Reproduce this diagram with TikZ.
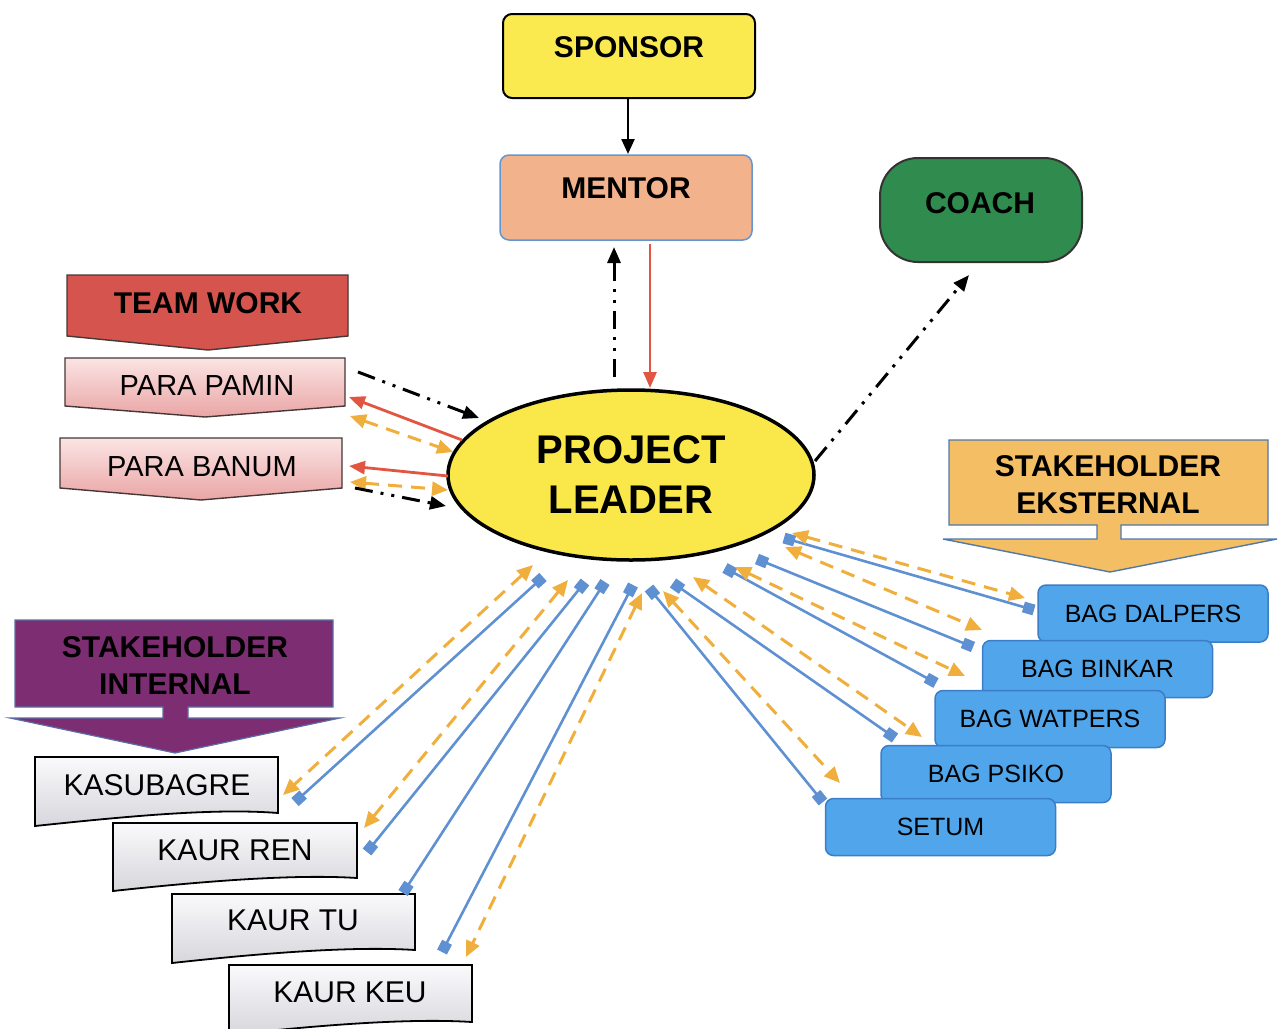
\documentclass[tikz,border=0pt]{standalone}
\usepackage{fontspec}
\setmainfont{Liberation Sans}
\usetikzlibrary{arrows.meta,shapes.geometric}
\definecolor{sponsorY}{RGB}{250,234,80}
\definecolor{mentorC}{RGB}{242,178,140}
\definecolor{mentorB}{RGB}{100,150,210}
\definecolor{coachG}{RGB}{48,140,78}
\definecolor{plY}{RGB}{250,232,75}
\definecolor{teamR}{RGB}{214,84,78}
\definecolor{pinkT}{RGB}{251,228,228}
\definecolor{pinkB}{RGB}{234,165,165}
\definecolor{intP}{RGB}{125,46,115}
\definecolor{intB}{RGB}{90,110,165}
\definecolor{extO}{RGB}{243,190,100}
\definecolor{extB}{RGB}{80,120,170}
\definecolor{bagB}{RGB}{80,165,235}
\definecolor{bagE}{RGB}{60,125,200}
\definecolor{lineB}{RGB}{95,145,210}
\definecolor{lineO}{RGB}{240,175,60}
\definecolor{lineR}{RGB}{225,85,65}
\definecolor{grayT}{RGB}{250,250,252}
\definecolor{grayB}{RGB}{214,214,220}
\definecolor{edgeD}{RGB}{70,55,55}
\begin{document}
\begin{tikzpicture}[x=1pt,y=-1pt,
  boxtxt/.style={inner sep=0pt, align=center},
  hb/.style={boxtxt, font=\fontsize{30}{37}\selectfont\bfseries},
  hr/.style={boxtxt, font=\fontsize{29}{35}\selectfont},
  bag/.style={draw=bagE, fill=bagB, line width=1.5, rounded corners=8, minimum width=230, minimum height=57, inner sep=0pt, font=\fontsize{25}{30}\selectfont},
  docbox/.style={draw=black, line width=1.8, top color=grayT, bottom color=grayB},
  pinkbox/.style={draw=edgeD, line width=1.4, top color=pinkT, bottom color=pinkB},
  bluecon/.style={lineB, line width=2.6, {Square[length=11,width=11]}-{Square[length=11,width=11]}},
  orcon/.style={lineO, line width=3, dash pattern=on 14pt off 9pt, {Triangle[length=16,width=14]}-{Triangle[length=16,width=14]}},
  redcon/.style={lineR, line width=2.8, -{Triangle[length=16,width=13]}},
  ddcon/.style={black, line width=3, dash pattern=on 18pt off 8pt on 3pt off 8pt on 3pt off 8pt, -{Triangle[length=16,width=13]}},
]
\path[use as bounding box] (0,0) rectangle (1281,1028);
\clip (0,0) rectangle (1281,1028);

% ---------- top boxes ----------
\node[draw=black, line width=2, fill=sponsorY, rounded corners=9, minimum width=252, minimum height=84] (sponsor) at (629,56) {};
\node[hb] (sponsorT) at (629,47) {SPONSOR};
\node[draw=mentorB, line width=1.5, fill=mentorC, rounded corners=9, minimum width=252, minimum height=85] (mentor) at (626,197.5) {};
\node[hb] (mentorT) at (626,188) {MENTOR};
\node[draw=black!80, line width=2, fill=coachG, rounded corners=38, minimum width=202, minimum height=104] (coach) at (981,210) {};
\node[hb] (coachT) at (980,203) {COACH};

% ---------- project leader ----------
\node[ellipse, draw=black, line width=3.5, fill=plY, minimum width=366, minimum height=170, inner sep=0pt, align=center,
  font=\fontsize{40}{50}\selectfont\bfseries] (pl) at (631,475) {PROJECT\\LEADER};

% ---------- team work ----------
\fill[teamR, draw=edgeD, line width=1.4] (67,275) -- (348,275) -- (348,336) -- (208,350) -- (67,336) -- cycle;
\node[hb] (team) at (208,303) {TEAM WORK};
\path[pinkbox] (65,358) -- (345,358) -- (345,406) -- (205,417) -- (65,406) -- cycle;
\node[hr] (pamin) at (207,386) {PARA PAMIN};
\path[pinkbox] (60,438) -- (342,438) -- (342,488) -- (201,500) -- (60,488) -- cycle;
\node[hr] (banum) at (202,467) {PARA BANUM};

% ---------- stakeholder internal ----------
\fill[intP, draw=intB, line width=1.2] (15,620) -- (333,620) -- (333,707) -- (188,707) -- (188,718) -- (340,718) -- (175,753)
  -- (10,718) -- (163,718) -- (163,707) -- (15,707) -- cycle;
\node[hb] (sint) at (175,666) {STAKEHOLDER\\INTERNAL};

% ---------- stakeholder eksternal ----------
\fill[extO, draw=extB, line width=1.4] (949,440) -- (1268,440) -- (1268,525) -- (1121,525) -- (1121,539) -- (1277,539) -- (1110,572)
  -- (943,539) -- (1097,539) -- (1097,525) -- (949,525) -- cycle;
\node[hb] (sext) at (1108,485) {STAKEHOLDER\\EKSTERNAL};

% ---------- internal boxes ----------
\path[docbox] (35,757) -- (278,757) -- (278,813) .. controls (215,808) and (130,816) .. (35,826) -- cycle;
\node[font=\fontsize{30}{36}\selectfont, inner sep=0pt] (kasubagre) at (157,785) {KASUBAGRE};
\path[docbox] (113,823) -- (357,823) -- (357,878) .. controls (295,874) and (205,881) .. (113,891) -- cycle;
\node[font=\fontsize{30}{36}\selectfont, inner sep=0pt] (kaurren) at (235,850) {KAUR REN};
\path[docbox] (172,894) -- (415,894) -- (415,950) .. controls (353,946) and (263,953) .. (172,963) -- cycle;
\node[font=\fontsize{30}{36}\selectfont, inner sep=0pt] (kaurtu) at (293,920) {KAUR TU};
\path[docbox] (229,965) -- (472,965) -- (472,1022) .. controls (410,1018) and (320,1025) .. (229,1035) -- cycle;
\node[font=\fontsize{30}{36}\selectfont, inner sep=0pt] (kaurkeu) at (350,992) {KAUR KEU};

% ---------- external boxes ----------
\node[bag] (dalpers) at (1153,613.5) {BAG DALPERS};
\node[bag] (binkar) at (1097.5,669) {BAG BINKAR};
\node[bag] (watpers) at (1050,719) {BAG WATPERS};
\node[bag] (psiko) at (996,774) {BAG PSIKO};
\node[bag] (setum) at (940.5,827) {SETUM};

% ---------- connector end points ----------
\coordinate (plL1) at (543,577);  \coordinate (kasB) at (295,802);
\coordinate (plL2) at (585,582);  \coordinate (renB) at (367,852);
\coordinate (plL3) at (605,582);  \coordinate (tuB)  at (403,893);
\coordinate (plL4) at (633,585);  \coordinate (keuB) at (442,952);
\coordinate (plO1) at (533,565);  \coordinate (kasO) at (283,795);
\coordinate (plO2) at (568,580);  \coordinate (renO) at (364,828);
\coordinate (plO3) at (642,593);  \coordinate (keuO) at (466,957);
\coordinate (plR1) at (649,588);  \coordinate (setB) at (823,802);
\coordinate (plR2) at (673,583);  \coordinate (psiB) at (895,738);
\coordinate (plR3) at (725,568);  \coordinate (watB) at (936,683);
\coordinate (plR4) at (757,559);  \coordinate (binB) at (973,647);
\coordinate (plR5) at (784,538);  \coordinate (dalB) at (1034,610);
\coordinate (plQ1) at (792,533);  \coordinate (dalO) at (1025,598);
\coordinate (plQ2) at (785,547);  \coordinate (binO) at (982,630);
\coordinate (plQ3) at (735,567);  \coordinate (watO) at (965,676);
\coordinate (plQ4) at (693,577);  \coordinate (psiO) at (922,737);
\coordinate (plQ5) at (663,591);  \coordinate (setO) at (840,783);

% ---------- connectors: internal ----------
\draw[bluecon] (plL1) -- (kasB);
\draw[bluecon] (plL2) -- (renB);
\draw[bluecon] (plL3) -- (tuB);
\draw[bluecon] (plL4) -- (keuB);
\draw[orcon] (plO1) -- (kasO);
\draw[orcon] (plO2) -- (renO);
\draw[orcon] (plO3) -- (keuO);

% ---------- connectors: external ----------
\draw[bluecon] (plR1) -- (setB);
\draw[bluecon] (plR2) -- (psiB);
\draw[bluecon] (plR3) -- (watB);
\draw[bluecon] (plR4) -- (binB);
\draw[bluecon] (plR5) -- (dalB);
\draw[orcon] (plQ1) -- (dalO);
\draw[orcon] (plQ2) -- (binO);
\draw[orcon] (plQ3) -- (watO);
\draw[orcon] (plQ4) -- (psiO);
\draw[orcon] (plQ5) -- (setO);

% ---------- connectors: team work ----------
\coordinate (pamA) at (358,372); \coordinate (plA) at (479,418);
\coordinate (plB) at (462,440);  \coordinate (pamB) at (349,397);
\coordinate (pamC) at (350,416); \coordinate (plC) at (453,452);
\coordinate (plD) at (448,476);  \coordinate (banD) at (349,466);
\coordinate (banE) at (350,482); \coordinate (plE) at (448,490);
\coordinate (banF) at (355,488); \coordinate (plF) at (446,506);
\draw[ddcon] (pamA) -- (plA);
\draw[redcon] (plB) -- (pamB);
\draw[orcon] (pamC) -- (plC);
\draw[redcon] (plD) -- (banD);
\draw[orcon] (banE) -- (plE);
\draw[ddcon] (banF) -- (plF);

% ---------- connectors: sponsor / mentor / coach ----------
\coordinate (sponS) at (628,98); \coordinate (menN) at (628,154);
\draw[black, line width=2.4, -{Triangle[length=15,width=13]}] (sponS) -- (menN);
\coordinate (plM1) at (614,377); \coordinate (menM1) at (614,247);
\draw[ddcon] (plM1) -- (menM1);
\coordinate (menM2) at (650,244); \coordinate (plM2) at (650,388);
\draw[redcon] (menM2) -- (plM2);
\coordinate (plK) at (815,461); \coordinate (coachK) at (969,275);
\draw[ddcon] (plK) -- (coachK);
\end{tikzpicture}
\end{document}
